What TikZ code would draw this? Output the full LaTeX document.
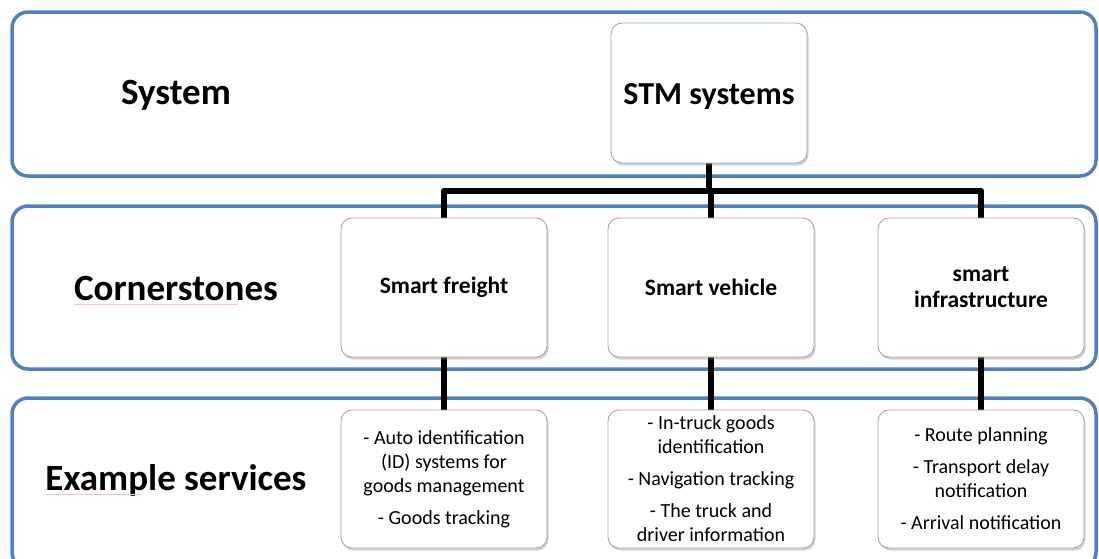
\documentclass[tikz,border=0pt]{standalone}
\usepackage{fontspec}
\setmainfont{Carlito}
\usetikzlibrary{shadows}
\definecolor{panelblue}{HTML}{4F81BD}
\pgfdeclarelayer{bglayer}
\pgfdeclarelayer{midlayer}
\pgfsetlayers{bglayer,midlayer,main}
\begin{document}
\begin{tikzpicture}[x=1pt,y=-1pt,
  panel/.style={draw=panelblue, line width=3.5pt, rounded corners=16pt},
  card/.style={draw=gray!70, fill=white, line width=0.9pt, rounded corners=11pt,
    drop shadow={shadow xshift=1.5pt, shadow yshift=-2.5pt, opacity=0.35, fill=gray},
    inner sep=0pt, align=center},
  conn/.style={line width=6.5pt, line join=round},
  lbl/.style={font=\fontsize{37}{40}\selectfont\bfseries},
  topfont/.style={font=\fontsize{32}{36}\selectfont\bfseries, text height=24pt, text depth=2pt},
  csfont/.style={font=\fontsize{23.5}{26}\selectfont\bfseries},
  svc/.style={font=\fontsize{20}{24}\selectfont},
  spell/.style={draw=red!25, line width=0.5pt}]
\useasboundingbox (0,0) rectangle (1099,558);
\begin{pgfonlayer}{bglayer}
\fill[white] (0,0) rectangle (1099,558);
\draw[panel] (12,12) rectangle (1096,176);
\draw[panel] (12,206) rectangle (1096,369);
\draw[panel] (12,398) rectangle (1096,568);
\end{pgfonlayer}
% row labels
\node[lbl] (lsys) at (176,95) {System};
\node[lbl] (lcor) at (176,288) {Cornerstones};
\node[lbl] (lex) at (176,480) {Example services};
\draw[spell] (lcor.base west) ++(4,4) -- ++(162,0);
\draw[spell] (lex.base west) ++(4,4) -- ++(94,0);
% boxes
\coordinate (bar) at (0,191);
\node[card, topfont, minimum width=196pt, minimum height=140pt] (stm) at (709,93) {STM systems};
\node[card, csfont, minimum width=206pt, minimum height=139pt] (fr) at (444,287.5) {Smart freight};
\node[card, csfont, minimum width=206pt, minimum height=139pt] (veh) at (711,287.5) {Smart vehicle};
\node[card, csfont, minimum width=206pt, minimum height=139pt] (inf) at (981,287.5) {smart\\infrastructure};
\node[card, svc, minimum width=206pt, minimum height=138pt] (sfr) at (444,479) {- Auto identification\\(ID) systems for\\goods management\\[8pt]- Goods tracking};
\node[card, svc, minimum width=206pt, minimum height=138pt] (sveh) at (711,479) {- In-truck goods\\identification\\[8pt]- Navigation tracking\\[8pt]- The truck and\\driver information};
\node[card, svc, minimum width=206pt, minimum height=138pt] (sinf) at (981,479) {- Route planning\\[8pt]- Transport delay\\notification\\[8pt]- Arrival notification};
% connectors
\begin{pgfonlayer}{midlayer}
\draw[conn] (stm.south) -- (stm.south |- bar);
\draw[conn] (fr.north) -- (fr.north |- bar) -- (inf.north |- bar) -- (inf.north);
\draw[conn] (veh.north) -- (veh.north |- bar);
\draw[conn] (fr.south) -- (sfr.north);
\draw[conn] (veh.south) -- (sveh.north);
\draw[conn] (inf.south) -- (sinf.north);
\end{pgfonlayer}
\end{tikzpicture}
\end{document}
